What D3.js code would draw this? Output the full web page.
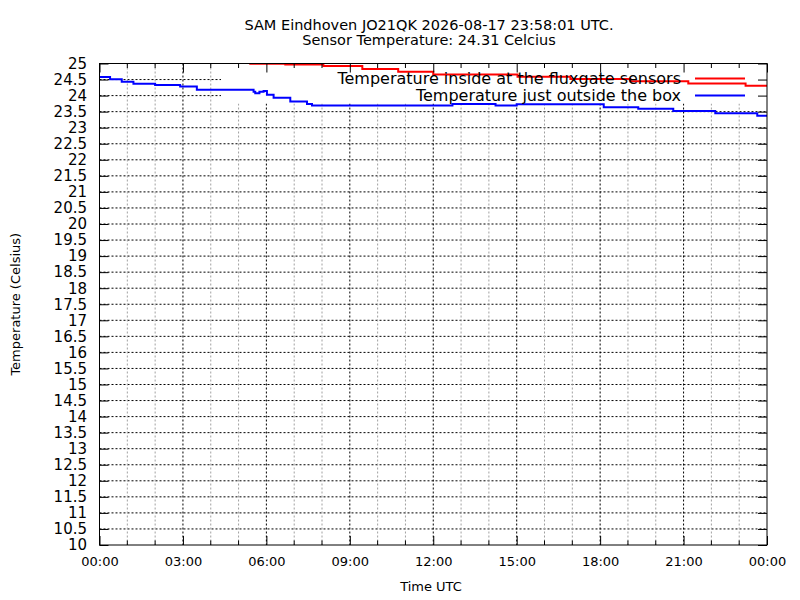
<!DOCTYPE html>
<html>
<head>
<meta charset="utf-8">
<script src="https://cdn.jsdelivr.net/npm/d3@7"></script>
<style>
  body { margin: 0; background: #fff; }
  text { font-family: "DejaVu Sans", sans-serif; fill: #000; }
</style>
</head>
<body>
<div id="chart"></div>
<script>
// Sensor readings, hours since 00:00 UTC (step changes)
const insideHours = [0, 5.42, 6.68, 8.05, 9.45, 10.74, 12.0, 15.03, 16.93, 19.09, 21.17, 23.23, 24];
const insideTemps = [25.08, 24.99, 24.97, 24.92, 24.83, 24.745, 24.66, 24.59, 24.52, 24.45, 24.38, 24.31, 24.31];

const outsideHours = [0, 0.38, 0.8, 1.22, 2.0, 2.9, 3.5, 5.54, 5.6, 5.75, 5.9, 6.02, 6.26, 6.86, 7.46, 7.64,
  12.69, 14.24, 15.0, 18.13, 19.37, 20.63, 22.14, 23.65, 24];
const outsideTemps = [24.58, 24.51, 24.43, 24.37, 24.33, 24.28, 24.18, 24.12, 24.07, 24.12, 24.14, 24.03, 23.93, 23.82, 23.74, 23.69,
  23.74, 23.69, 23.73, 23.64, 23.59, 23.52, 23.45, 23.37, 23.37];

const seriesNames = ["Temperature inside at the fluxgate sensors", "Temperature just outside the box"];
const seriesColors = ["#ff0000", "#0000ff"];

const xMajorTicks = [0, 3, 6, 9, 12, 15, 18, 21, 24];
const xTickLabels = ["00:00", "03:00", "06:00", "09:00", "12:00", "15:00", "18:00", "21:00", "00:00"];
const xMinorTicks = d3.range(0, 25, 1);
const yTicks = d3.range(10, 25.01, 0.5);

const titleLines = ["SAM Eindhoven JO21QK 2026-08-17 23:58:01 UTC.", "Sensor Temperature: 24.31 Celcius"];

const width = 800, height = 600;
const plot = { left: 99.5, right: 767, top: 63.5, bottom: 545 };

const svg = d3.select("#chart")
  .append("svg")
  .attr("width", width)
  .attr("height", height);

const x = d3.scaleLinear().domain([0, 24]).range([plot.left, plot.right]);
const y = d3.scaleLinear().domain([10, 25]).range([plot.bottom, plot.top]);

// Grid
const grid = svg.append("g").attr("class", "grid");
grid.selectAll(".hgrid")
  .data(yTicks.filter((d) => d > 10 && d < 25))
  .enter()
  .append("line")
  .attr("x1", plot.left).attr("x2", plot.right)
  .attr("y1", (d) => y(d)).attr("y2", (d) => y(d))
  .attr("stroke", "#000")
  .attr("stroke-width", 1)
  .attr("stroke-dasharray", "2,2");

grid.selectAll(".vgrid")
  .data(xMinorTicks.filter((d) => d > 0 && d < 24))
  .enter()
  .append("line")
  .attr("x1", (d) => x(d)).attr("x2", (d) => x(d))
  .attr("y1", plot.top).attr("y2", plot.bottom)
  .attr("stroke", (d) => (d % 3 === 0 ? "#000" : "#a0a0a0"))
  .attr("stroke-width", 1)
  .attr("stroke-dasharray", "2,2");

// Key box is opaque: it blanks the grid behind it
svg.append("rect")
  .attr("x", 221).attr("y", plot.top)
  .attr("width", plot.right - 221)
  .attr("height", 103.5 - plot.top)
  .attr("fill", "#fff");

// Clip data to plot area
svg.append("clipPath").attr("id", "clip")
  .append("rect")
  .attr("x", plot.left).attr("y", plot.top)
  .attr("width", plot.right - plot.left)
  .attr("height", plot.bottom - plot.top);

const line = d3.line()
  .x((d) => x(d[0]))
  .y((d) => y(d[1]))
  .curve(d3.curveStepAfter);

const series = [
  d3.zip(insideHours, insideTemps),
  d3.zip(outsideHours, outsideTemps)
];

svg.append("g")
  .attr("clip-path", "url(#clip)")
  .selectAll("path")
  .data(series)
  .enter()
  .append("path")
  .attr("d", line)
  .attr("fill", "none")
  .attr("stroke", (d, i) => seriesColors[i])
  .attr("stroke-width", 2);

// Legend
const legend = svg.append("g").attr("class", "legend");
const legendRows = legend.selectAll("g")
  .data(seriesNames)
  .enter()
  .append("g")
  .attr("transform", (d, i) => `translate(0,${78.5 + i * 17})`);

legendRows.append("text")
  .attr("x", 681)
  .attr("dy", "0.32em")
  .attr("text-anchor", "end")
  .attr("font-size", "16px")
  .text((d) => d);

legendRows.append("line")
  .attr("x1", 695).attr("x2", 745)
  .attr("stroke", (d, i) => seriesColors[i])
  .attr("stroke-width", 2);

// Axes with inward ticks
const xAxis = d3.axisBottom(x)
  .tickValues(xMajorTicks)
  .tickFormat((d, i) => xTickLabels[i])
  .tickSize(-9)
  .tickPadding(12);

const gx = svg.append("g")
  .attr("transform", `translate(0,${plot.bottom})`)
  .call(xAxis);
gx.select(".domain").remove();
gx.selectAll("text").attr("font-size", "13px").attr("font-family", "DejaVu Sans");

const gxTop = svg.append("g")
  .attr("transform", `translate(0,${plot.top})`)
  .call(d3.axisTop(x).tickValues(xMajorTicks).tickFormat("").tickSize(-9));
gxTop.select(".domain").remove();

// minor hour ticks
[plot.bottom, plot.top].forEach((yy) => {
  const dir = yy === plot.bottom ? -1 : 1;
  svg.append("g")
    .selectAll("line")
    .data(xMinorTicks.filter((d) => d % 3 !== 0))
    .enter()
    .append("line")
    .attr("x1", (d) => x(d)).attr("x2", (d) => x(d))
    .attr("y1", yy).attr("y2", yy + dir * 4.5)
    .attr("stroke", "#000");
});

const yAxis = d3.axisLeft(y)
  .tickValues(yTicks)
  .tickFormat((d) => d3.format("")(d))
  .tickSize(-9)
  .tickPadding(12.5);

const gy = svg.append("g")
  .attr("transform", `translate(${plot.left},0)`)
  .call(yAxis);
gy.select(".domain").remove();
gy.selectAll("text").attr("font-size", "15px").attr("font-family", "DejaVu Sans");

const gyRight = svg.append("g")
  .attr("transform", `translate(${plot.right},0)`)
  .call(d3.axisRight(y).tickValues(yTicks).tickFormat("").tickSize(-9));
gyRight.select(".domain").remove();

// Border
svg.append("rect")
  .attr("x", plot.left).attr("y", plot.top)
  .attr("width", plot.right - plot.left)
  .attr("height", plot.bottom - plot.top)
  .attr("fill", "none")
  .attr("stroke", "#000")
  .attr("stroke-width", 1);

// Titles
svg.append("g")
  .selectAll("text")
  .data(titleLines)
  .enter()
  .append("text")
  .attr("x", 429)
  .attr("y", (d, i) => 30 + i * 15)
  .attr("text-anchor", "middle")
  .attr("font-size", "14.5px")
  .text((d) => d);

svg.append("text")
  .attr("x", 431)
  .attr("y", 591)
  .attr("text-anchor", "middle")
  .attr("font-size", "13px")
  .text("Time UTC");

svg.append("text")
  .attr("transform", `translate(20,${(plot.top + plot.bottom) / 2}) rotate(-90)`)
  .attr("text-anchor", "middle")
  .attr("font-size", "13px")
  .text("Temperature (Celsius)");
</script>
</body>
</html>
